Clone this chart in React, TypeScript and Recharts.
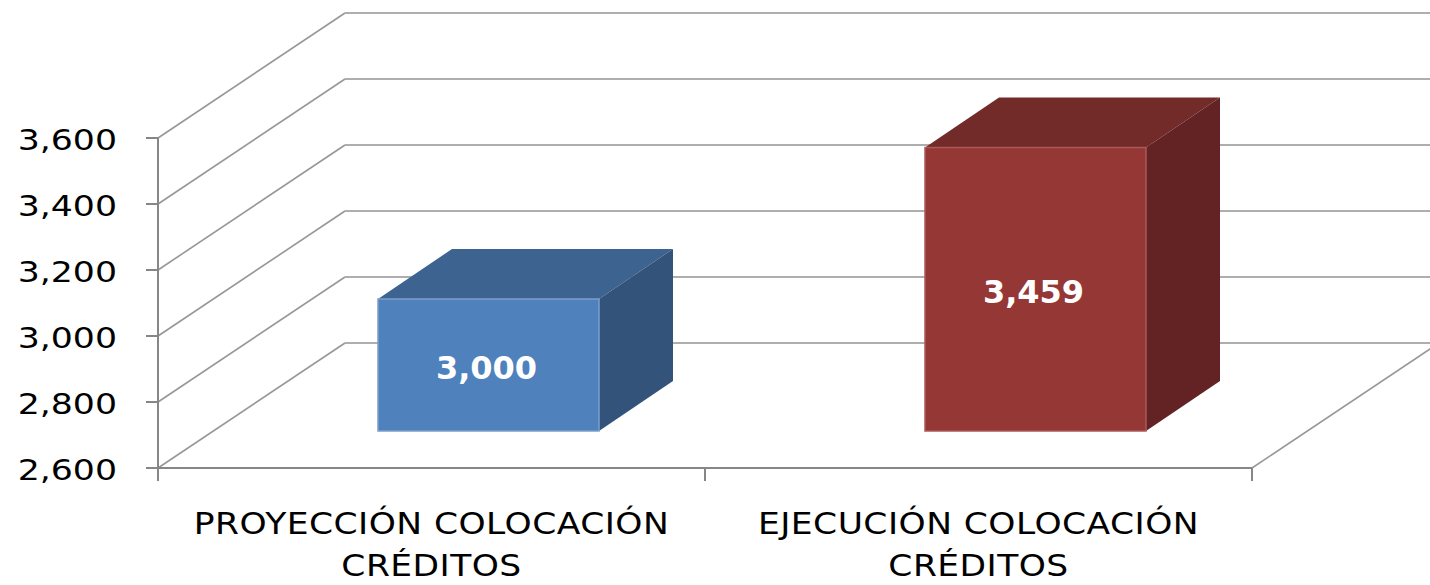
import { BarChart, Bar, XAxis, YAxis, CartesianGrid, ReferenceLine, LabelList } from 'recharts';

const categories = ['PROYECCIÓN COLOCACIÓN CRÉDITOS', 'EJECUCIÓN COLOCACIÓN CRÉDITOS'];
const creditos = [3000, 3459];
const yTicks = [2600, 2800, 3000, 3200, 3400, 3600];

const frontColors = ['#4F81BD', '#953735'];
const topColors = ['#3D6390', '#722B29'];
const sideColors = ['#33537A', '#632324'];
const edgeColors = ['#7C9FCC', '#AA5A58'];

const data = categories.map((name, i) => ({ name, value: creditos[i] }));

// depth of the walls/floor, and where the boxes sit inside that depth
const WALL_DX = 187;
const WALL_DY = 125;
const BAR_OX = 57;
const BAR_OY = 37;
const BAR_DX = 74;
const BAR_DY = 50;

const FONT = '"DejaVu Sans", Verdana, sans-serif';
const AXIS = '#868686';
const fmt = (v: number) => Number(v).toLocaleString('en-US');

function WallLine(p: any) {
  const { x1, y1, x2 } = p;
  const bx = x1 + WALL_DX;
  const by = y1 - WALL_DY;
  return (
    <g key={p.key}>
      <line x1={x1} y1={y1} x2={bx} y2={by} stroke="#979797" strokeWidth={1.6} />
      <line x1={bx} y1={by} x2={x2 + WALL_DX} y2={by} stroke="#AEAEAE" strokeWidth={2.2} />
    </g>
  );
}

function FloorEdge(p: any) {
  const x = Math.max(p.x1, p.x2);
  const y = p.y1;
  return <line x1={x} y1={y} x2={x + WALL_DX} y2={y - WALL_DY} stroke="#979797" strokeWidth={1.6} />;
}

function Box3D(p: any) {
  const { x, y, width, height, index } = p;
  const fx = x + BAR_OX;
  const fy = y - BAR_OY;
  const fr = fx + width;
  const fb = fy + height;
  return (
    <g>
      <polygon
        points={`${fx},${fy} ${fx + BAR_DX},${fy - BAR_DY} ${fr + BAR_DX},${fy - BAR_DY} ${fr},${fy}`}
        fill={topColors[index]}
      />
      <polygon
        points={`${fr},${fy} ${fr + BAR_DX},${fy - BAR_DY} ${fr + BAR_DX},${fb - BAR_DY} ${fr},${fb}`}
        fill={sideColors[index]}
      />
      <rect x={fx} y={fy} width={width} height={height} fill={frontColors[index]} stroke={edgeColors[index]} strokeWidth={1.5} />
    </g>
  );
}

function FaceLabel(p: any) {
  const vb = p.viewBox ?? p;
  const cx = vb.x + BAR_OX + vb.width / 2;
  const cy = vb.y - BAR_OY + vb.height / 2;
  return (
    <text x={cx - 2} y={cy + 14} textAnchor="middle" fill="#fff" fontFamily={FONT} fontWeight="bold" fontSize={32}>
      {fmt(p.value)}
    </text>
  );
}

// the source renders its axis text a little stretched sideways
function ValueTick(p: any) {
  const { x, y, payload } = p;
  return (
    <text
      transform={`translate(${x},${y + 12}) scale(1.24,1)`}
      textAnchor="end"
      fill="#000"
      fontFamily={FONT}
      fontSize={28}
    >
      {fmt(payload.value)}
    </text>
  );
}

function CategoryTick(p: any) {
  const { x, y, payload } = p;
  const half = payload.offset ?? 0;
  const words = String(payload.value).split(' ');
  const last = words.pop();
  return (
    <g>
      {half > 0 && (
        <>
          <line x1={x - half} y1={y} x2={x - half} y2={y + 13} stroke={AXIS} strokeWidth={2} />
          <line x1={x + half} y1={y} x2={x + half} y2={y + 13} stroke={AXIS} strokeWidth={2} />
        </>
      )}
      <text
        transform={`translate(${x},${y}) scale(1.15,1)`}
        textAnchor="middle"
        fill="#000"
        fontFamily={FONT}
        fontSize={30}
        letterSpacing={0.4}
      >
        <tspan x={0} y={66}>{words.join(' ')}</tspan>
        <tspan x={0} y={108}>{last}</tspan>
      </text>
    </g>
  );
}

export default function App() {
  return (
    <div style={{ position: 'absolute', left: 0, top: 0, width: 1430, height: 585, background: '#fff' }}>
      <BarChart width={1430} height={585} data={data} margin={{ top: 138, right: 178, bottom: 0, left: 0 }}>
        <CartesianGrid horizontal={WallLine} vertical={false} />
        <ReferenceLine y={2600} shape={FloorEdge} />
        <XAxis
          dataKey="name"
          height={117}
          interval={0}
          tickSize={0}
          tickMargin={0}
          tickLine={false}
          axisLine={{ stroke: AXIS, strokeWidth: 2 }}
          tick={<CategoryTick />}
        />
        <YAxis
          width={158}
          domain={[2600, 3600]}
          ticks={yTicks}
          interval={0}
          tickSize={12}
          tickMargin={29}
          axisLine={{ stroke: AXIS, strokeWidth: 2 }}
          tickLine={{ stroke: AXIS, strokeWidth: 2 }}
          tick={<ValueTick />}
        />
        <Bar dataKey="value" barSize={221} shape={Box3D} isAnimationActive={false}>
          <LabelList dataKey="value" content={FaceLabel} />
        </Bar>
      </BarChart>
    </div>
  );
}
